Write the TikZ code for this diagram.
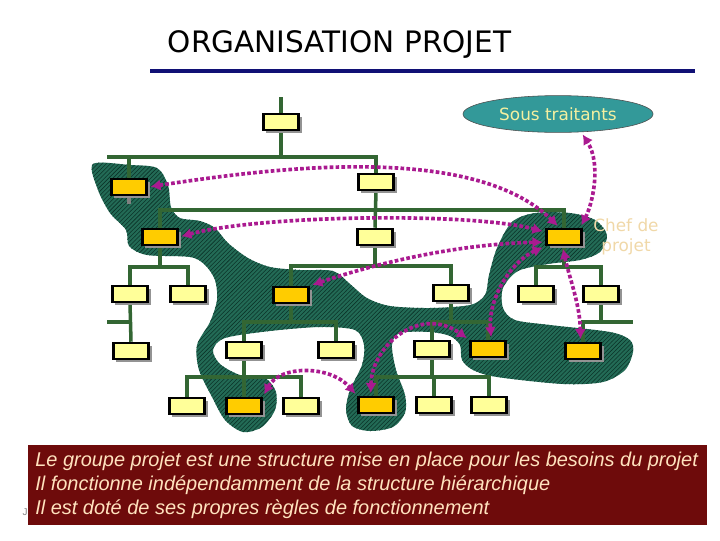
\documentclass[tikz,border=0pt]{standalone}
\usepackage{fontspec}
\setmainfont{Liberation Sans}
\newfontfamily\comicfont{DejaVu Sans}
\usepackage{xcolor}
\usetikzlibrary{arrows.meta,shapes.geometric,shadows,patterns,backgrounds}
\definecolor{orgyellow}{HTML}{FFFF99}
\definecolor{orgorange}{HTML}{FFCC00}
\definecolor{orgline}{HTML}{336633}
\definecolor{orgblob}{HTML}{236B56}
\definecolor{orgblobdark}{HTML}{0B3328}
\definecolor{orglink}{HTML}{AA1A90}
\definecolor{orgteal}{HTML}{339999}
\definecolor{orgnavy}{HTML}{101075}
\definecolor{orgred}{HTML}{6E0B0B}
\definecolor{orgpeach}{HTML}{FFE2BE}
\definecolor{orgtan}{HTML}{F0D8A8}
\definecolor{orgpale}{HTML}{F4F0A0}

\begin{document}
\begin{tikzpicture}[
  x=0.025cm, y=-0.025cm,
  >=Latex,
  box/.style={draw=black, line width=1.8pt, fill=orgyellow, minimum width=0.88cm,
    minimum height=0.40cm, inner sep=0pt,
    drop shadow={shadow xshift=2.2pt, shadow yshift=-2.2pt, fill=gray!85, opacity=1}},
  hbox/.style={box, fill=orgorange},
  tree/.style={orgline, line width=2.5pt},
  stub/.style={gray, line width=2.5pt},
  link/.style={orglink, line width=2.6pt, dash pattern=on 2.6pt off 1.6pt,
    {Latex[length=7pt,width=8pt]}-{Latex[length=7pt,width=8pt]},
    shorten <=2pt, shorten >=2pt},
  blob/.style={fill=orgblob, postaction={pattern=north east lines, pattern color=orgblobdark}}
]
\useasboundingbox (0,0) rectangle (720,540);

\node[anchor=west, font=\comicfont\fontsize{21}{24}\selectfont] (title) at (163,44)
  {ORGANISATION PROJET};
\draw[orgnavy, line width=2.8pt] (150,71) -- (695,71);

\node[ellipse, draw=black!70, fill=orgteal, minimum width=4.75cm, minimum height=0.92cm,
  text=orgpale, font=\comicfont\fontsize{12}{14}\selectfont] (sous) at (558,114) {Sous traitants};

\node[box] (n0) at (281,122) {};
\node[hbox] (o1) at (129,187) {};
\node[box] (n1) at (376,182) {};
\node[hbox] (o2) at (160,237) {};
\node[box] (n2) at (375,237) {};
\node[hbox] (chef) at (564,237) {};
\node[box] (y3a) at (130,294) {};
\node[box] (y3b) at (188,294) {};
\node[hbox] (o3) at (291,295) {};
\node[box] (y3c) at (451,293) {};
\node[box] (y3d) at (536,294) {};
\node[box] (y3e) at (601,294) {};
\node[box] (y4a) at (131,351) {};
\node[box] (y4b) at (244,350) {};
\node[box] (y4c) at (336,350) {};
\node[box] (y4d) at (432,349) {};
\node[hbox] (o4) at (488,349) {};
\node[hbox] (o7) at (583,351) {};
\node[box] (y5a) at (187,406) {};
\node[hbox] (o5) at (244,406) {};
\node[box] (y5b) at (301,406) {};
\node[hbox] (o6) at (376,405) {};
\node[box] (y5c) at (434,405) {};
\node[box] (y5d) at (489,405) {};

\node[align=center, text=orgtan, font=\comicfont\fontsize{12}{14}\selectfont] (cheflabel)
  at (626,237) {Chef de\\projet};

\begin{scope}[on background layer]
\fill[blob] plot[smooth cycle, tension=0.5] coordinates {
  (93,164) (130,165) (157,168) (168,185) (171,207) (180,218) (200,221) (215,228)
  (228,243) (248,258) (270,267) (300,270) (333,271) (350,284) (367,298) (390,306)
  (430,308) (470,305) (485,295) (489,275) (497,248) (512,222) (535,213) (570,213)
  (595,220) (607,235) (600,252) (580,260) (548,264) (518,271) (503,288) (503,308)
  (515,320) (550,325) (610,332) (630,340) (633,352) (625,370) (603,382) (563,384)
  (497,377) (473,370) (462,360) (460,345) (450,336) (430,332) (400,333) (392,345)
  (396,370) (405,395) (405,413) (393,427) (370,431) (352,426) (346,410) (350,390)
  (362,365) (364,345) (355,330) (320,327) (270,331) (225,338) (213,350) (220,364)
  (240,375) (265,378) (276,392) (275,410) (262,427) (243,432) (225,420) (212,397)
  (199,370) (197,345) (210,322) (217,300) (215,280) (205,265) (190,257) (147,255)
  (129,246) (126,230) (110,213) (98,190)};

\draw[tree] (n0.north) -- ++(0,-16);
\draw[tree] (n0.south) -- (n0.south |- 0,157);
\draw[tree] (107,157) -| (o1.north);
\draw[tree] (o1.north |- 0,157) -| (n1.north);
\draw[stub] (o1.south) -- ++(0,8);
\draw[tree] (n1.south) -- (n2.north);
\draw[tree] (o2.north) |- (chef.north |- 0,210) -- (chef.north);
\draw[tree] (o2.south) -- (o2.south |- 0,267);
\draw[tree] (y3a.north) |- (y3b.north |- 0,267) -- (y3b.north);
\draw[tree] (y3a.south) -- (y4a.north);
\draw[tree] (107,322) -- (y3a.south |- 0,322);
\draw[tree] (n2.south) -- (n2.south |- 0,266);
\draw[tree] (o3.north) |- (y3c.north |- 0,266) -- (y3c.north);
\draw[tree] (o3.south) -- (o3.south |- 0,322);
\draw[tree] (y4b.north) |- (y4c.north |- 0,322) -- (y4c.north);
\draw[tree] (y4b.south) -- (y4b.south |- 0,377);
\draw[tree] (y5a.north) |- (y5b.north |- 0,377) -- (y5b.north);
\draw[tree] (o5.north) -- (o5.north |- 0,377);
\draw[tree] (y3c.south) -- (y3c.south |- 0,322);
\draw[tree] (y4d.north) |- (o4.north |- 0,322) -- (o4.north);
\draw[tree] (y4d.south) -- (y4d.south |- 0,377);
\draw[tree] (o6.north) |- (y5d.north |- 0,377) -- (y5d.north);
\draw[tree] (y5c.north) -- (y5c.north |- 0,377);
\draw[tree] (chef.south) -- (chef.south |- 0,267);
\draw[tree] (y3d.north) |- (y3e.north |- 0,267) -- (y3e.north);
\draw[tree] (y3e.south) -- (y3e.south |- 0,322);
\draw[tree] (o7.north) |- (633,322);
\end{scope}

\draw[link] (o1.east) .. controls (260,170) and (470,140) .. (chef.115);
\draw[link] (o2.east) .. controls (260,215) and (470,212) .. (chef.165);
\draw[link] (o3.north east) .. controls (380,262) and (460,244) .. (chef.195);
\draw[link] (chef.south west) .. controls (510,262) and (488,300) .. (o4.70);
\draw[link] (chef.260) .. controls (570,280) and (580,305) .. (o7.105);
\draw[link] (chef.30) .. controls (592,205) and (602,165) .. (sous.-38);
\draw[link] (o6.120) .. controls (372,345) and (420,305) .. (o4.north west);
\draw[link] (o5.north east) .. controls (280,365) and (330,365) .. (o6.north west);

\node[text=gray, font=\fontsize{7}{8}\selectfont] (foot) at (25,512) {J};
\fill[orgred] (28,445) rectangle (707,525);
\node[anchor=north west, align=left, inner sep=0pt, text=orgpeach,
  font=\itshape\fontsize{14.2}{17}\selectfont] (note) at (35,452)
  {Le groupe projet est une structure mise en place pour les besoins du projet\\
   Il fonctionne indépendamment de la structure hiérarchique\\
   Il est doté de ses propres règles de fonctionnement};

\end{tikzpicture}
\end{document}
